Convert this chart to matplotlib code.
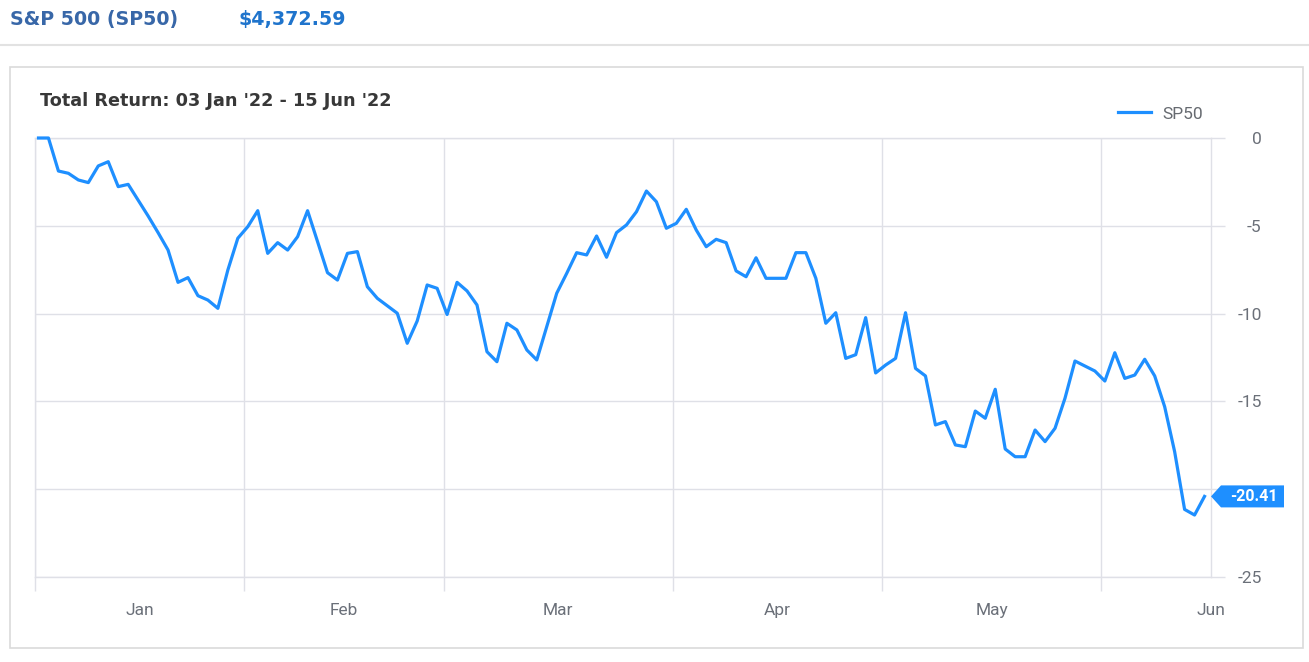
import numpy as np
import pandas as pd
import matplotlib
matplotlib.use("Agg")
import matplotlib.pyplot as plt
from matplotlib.patches import Rectangle, Polygon
from matplotlib.lines import Line2D
import matplotlib.transforms as mtransforms

plt.rcParams['axes.unicode_minus'] = False
plt.rcParams['font.family'] = ['Roboto', 'DejaVu Sans']

# --- data ---
ticker = 'SP50'
price_text = r'\$4,372.59'
start_date = '2022-01-03'
end_date = '2022-06-15'
holidays = ['2022-01-17', '2022-02-21', '2022-04-15', '2022-05-30']

# total return in % for each trading day
total_return = [
    0.00, 0.00, -1.88, -2.01, -2.39, -2.54, -1.59, -1.35, -2.77, -2.64,
    -4.44, -5.39, -6.38, -8.22, -7.95, -8.98, -9.23, -9.70, -7.52, -5.71,
    # Feb
    -5.05, -4.14, -6.57, -5.96, -6.38, -5.62, -4.14, -5.90, -7.67, -8.09,
    -6.57, -6.47, -8.47, -9.13, -9.98, -11.69, -10.42, -8.37, -8.56,
    # Mar
    -10.05, -8.22, -8.71, -9.51, -12.17, -12.74, -10.55, -10.93, -12.07, -12.64,
    -10.74, -8.84, -7.71, -6.53, -6.66, -5.58, -6.79, -5.39, -4.95, -4.20,
    -3.02, -3.63, -5.14,
    # Apr
    -4.86, -4.06, -5.24, -6.19, -5.77, -5.96, -7.57, -7.90, -6.82, -7.99,
    -7.99, -6.53, -6.53, -7.99, -10.55, -9.95, -12.55, -12.34, -10.23, -13.38,
    # May
    -12.93, -12.55, -9.95, -13.12, -13.55, -16.34, -16.15, -17.48, -17.58, -15.55,
    -15.96, -14.31, -17.71, -18.15, -18.15, -16.63, -17.29, -16.53, -14.82, -12.70,
    -13.27,
    # Jun
    -13.84, -12.23, -13.69, -13.50, -12.60, -13.55, -15.30, -17.86, -21.15, -21.47,
    -20.41,
]
month_names = ['Jan', 'Feb', 'Mar', 'Apr', 'May', 'Jun']
y_ticks = [0, -5, -10, -15, -20, -25]

# x = weekday position (chart keeps holiday slots)
weekdays = pd.bdate_range(start_date, end_date)
trading_days = weekdays.drop(pd.to_datetime(holidays))
x = weekdays.get_indexer(trading_days)

# month boundaries and label centres in weekday units
month_starts = pd.date_range('2022-01-01', periods=6, freq='MS')
bounds = []
centres = []
for m in month_starts:
    first = int(np.searchsorted(weekdays, m))
    n_days = len(pd.bdate_range(m, m + pd.offsets.MonthEnd(0)))
    bounds.append(first - 0.35)
    centres.append(first - 0.35 + n_days / 2)

W, H = 1309, 662
blue = '#1e8fff'
gridc = '#dfe0e7'
labelc = '#6b7079'

fig = plt.figure(figsize=(W / 100, H / 100), dpi=100)

# header
fig.text(10 / W, 1 - 20 / H, 'S&P 500 (SP50)', fontsize=13.7, fontweight='bold',
         color='#3867a8', va='center', family='DejaVu Sans')
fig.text(238 / W, 1 - 20 / H, price_text, fontsize=13.7, fontweight='bold',
         color='#1f74cc', va='center', family='DejaVu Sans')
fig.add_artist(Line2D([0, 1], [1 - 45 / H] * 2, transform=fig.transFigure,
                      color='#e2e2e2', lw=1.5))
fig.add_artist(Rectangle((10 / W, 1 - 648 / H), 1293 / W, 581 / H,
                         transform=fig.transFigure, fill=False,
                         ec='#dadada', lw=1.2))
fig.text(40 / W, 1 - 101 / H, "Total Return: 03 Jan '22 - 15 Jun '22",
         fontsize=12.7, fontweight='bold', color='#383838', va='center',
         family='DejaVu Sans')

ax = fig.add_axes([35 / W, 1 - 577 / H, (1211 - 35) / W, (577 - 138) / H])
ax.plot(x, total_return, color=blue, lw=2.3, label=ticker, clip_on=False,
        zorder=3)

ax.set_xlim(-0.35, 117.6)
ax.set_ylim(-25, 0)

# the -20 label sits under the value tag in the reference
ax.set_yticks(y_ticks)
ax.set_yticklabels(['' if v == -20 else str(v) for v in y_ticks])
ax.yaxis.tick_right()
ax.tick_params(axis='y', length=10, width=1, color=gridc, pad=26.5,
               labelsize=12.5, labelcolor=labelc)
for lbl in ax.get_yticklabels():
    lbl.set_ha('right')

ax.set_xticks(bounds)
ax.set_xticklabels([''] * len(bounds))
ax.set_xticks(centres, minor=True)
ax.set_xticklabels(month_names, minor=True)
ax.tick_params(axis='x', which='major', length=10, width=1, color=gridc)
ax.tick_params(axis='x', which='minor', length=0, pad=19, labelsize=12.5,
               labelcolor=labelc)

ax.grid(True, which='major', color=gridc, lw=1)
ax.set_axisbelow(True)
for s in ax.spines.values():
    s.set_color(gridc)
    s.set_linewidth(1)

leg = ax.legend(loc='center right', bbox_to_anchor=(0.9932, 1.0547),
                frameon=False, fontsize=12.5, handlelength=1.9,
                handletextpad=0.63, borderpad=0, borderaxespad=0)
for t in leg.get_texts():
    t.set_color('#666a70')

# value tag at the last point
last = total_return[-1]
anchor = mtransforms.blended_transform_factory(ax.transAxes, ax.transData)
tag_trans = mtransforms.Affine2D() + mtransforms.ScaledTranslation(1.0, last, anchor)
tag = Polygon([(0, 0), (10, 11), (73, 11), (73, -11), (10, -11)], closed=True,
              transform=tag_trans, fc=blue, ec='none', zorder=5)
fig.add_artist(tag)
fig.text(43, -0.5, f'{last:.2f}', transform=tag_trans, ha='center',
         va='center', color='white', fontsize=11.5, fontweight='bold',
         zorder=6)

fig.savefig('out.png', dpi=100)
